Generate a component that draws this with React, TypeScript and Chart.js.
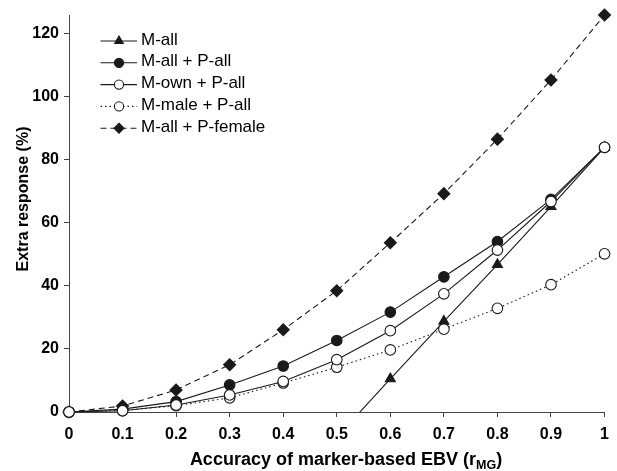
import React, { useEffect, useRef } from 'react';
import { Chart, registerables } from 'chart.js';

Chart.register(...registerables);

const FONT = '"Liberation Sans", Arial, Helvetica, sans-serif';

// ---- data ----
const xValues = [0, 0.1, 0.2, 0.3, 0.4, 0.5, 0.6, 0.7, 0.8, 0.9, 1];
const xTickLabels = ['0', '0.1', '0.2', '0.3', '0.4', '0.5', '0.6', '0.7', '0.8', '0.9', '1'];
const yTicks = [0, 20, 40, 60, 80, 100, 120];
const yMax = 126;

const seriesNames = ['M-all', 'M-all + P-all', 'M-own + P-all', 'M-male + P-all', 'M-all + P-female'];
const mAll = [null, null, null, null, null, -8, 10.5, 28.8, 46.8, 65.2, 84];
const mAllPAll = [0, 0.9, 3.3, 8.6, 14.6, 22.7, 31.7, 42.9, 54.1, 67.5, 84];
const mOwnPAll = [0, 0.4, 2.2, 5.4, 9.7, 16.6, 25.8, 37.5, 51.4, 66.8, 84];
const mMalePAll = [0, 0.5, 2.0, 4.5, 9.2, 14.2, 19.7, 26.3, 32.9, 40.4, 50.2];
const mAllPFemale = [0, 1.9, 7.0, 15.0, 26.1, 38.5, 53.7, 69.3, 86.6, 105.4, 126];

const xTitle = 'Accuracy of marker-based EBV (r';
const xTitleSub = 'MG';
const xTitleEnd = ')';
const yTitle = 'Extra response (%)';

const INK = '#1a1a1a';

type Style = {
  marker: 'triangle' | 'circle' | 'rectRot';
  filled: boolean;
  dash: number[];
  radius: number;
  order: number;
};

const styles: Style[] = [
  { marker: 'triangle', filled: true, dash: [], radius: 5.8, order: 3 },
  { marker: 'circle', filled: true, dash: [], radius: 5.3, order: 2 },
  { marker: 'circle', filled: false, dash: [], radius: 5.3, order: 0 },
  { marker: 'circle', filled: false, dash: [1.5, 3], radius: 5.3, order: 1 },
  { marker: 'rectRot', filled: true, dash: [6, 4], radius: 6, order: 4 },
];

const seriesValues = [mAll, mAllPAll, mOwnPAll, mMalePAll, mAllPFemale];

function toPoints(vals: (number | null)[]) {
  return xValues
    .map((x, i) => ({ x, y: vals[i] }))
    .filter((p) => p.y !== null) as { x: number; y: number }[];
}

function drawMarker(ctx: CanvasRenderingContext2D, st: Style, x: number, y: number, r: number) {
  ctx.save();
  ctx.setLineDash([]);
  ctx.lineWidth = 1.1;
  ctx.strokeStyle = INK;
  ctx.fillStyle = st.filled ? INK : '#ffffff';
  ctx.beginPath();
  if (st.marker === 'circle') {
    ctx.arc(x, y, r, 0, Math.PI * 2);
  } else if (st.marker === 'triangle') {
    ctx.moveTo(x, y - r);
    ctx.lineTo(x - 0.866 * r, y + 0.5 * r);
    ctx.lineTo(x + 0.866 * r, y + 0.5 * r);
    ctx.closePath();
  } else {
    ctx.moveTo(x, y - r);
    ctx.lineTo(x + r, y);
    ctx.lineTo(x, y + r);
    ctx.lineTo(x - r, y);
    ctx.closePath();
  }
  ctx.fill();
  ctx.stroke();
  ctx.restore();
}

const decorPlugin = {
  id: 'decor',
  afterDraw(chart: any) {
    const ctx: CanvasRenderingContext2D = chart.ctx;
    ctx.save();
    // legend
    const rowY0 = 41;
    const rowGap = 21.8;
    const lineX0 = 100.5;
    const lineX1 = 137;
    const markX = 119;
    const textX = 141;
    seriesNames.forEach((name, i) => {
      const st = styles[i];
      const y = rowY0 + i * rowGap;
      ctx.save();
      ctx.strokeStyle = INK;
      ctx.lineWidth = 1.1;
      ctx.setLineDash(st.dash);
      ctx.beginPath();
      ctx.moveTo(lineX0, y);
      ctx.lineTo(lineX1, y);
      ctx.stroke();
      ctx.restore();
      drawMarker(ctx, st, markX, y, st.marker === 'triangle' ? 5 : st.marker === 'rectRot' ? 5 : 4.6);
      ctx.fillStyle = '#000';
      ctx.font = `17px ${FONT}`;
      ctx.textAlign = 'left';
      ctx.textBaseline = 'middle';
      ctx.fillText(name, textX, y - 1);
    });

    // x title with subscript
    ctx.fillStyle = '#000';
    ctx.textBaseline = 'alphabetic';
    ctx.textAlign = 'left';
    const mainFont = `bold 18px ${FONT}`;
    const subFont = `bold 12.5px ${FONT}`;
    ctx.font = mainFont;
    const w1 = ctx.measureText(xTitle).width;
    const w3 = ctx.measureText(xTitleEnd).width;
    ctx.font = subFont;
    const w2 = ctx.measureText(xTitleSub).width;
    const total = w1 + w2 + w3;
    const cx = 346;
    let x = cx - total / 2;
    const base = 465;
    ctx.font = mainFont;
    ctx.fillText(xTitle, x, base);
    x += w1;
    ctx.font = subFont;
    ctx.fillText(xTitleSub, x, base + 4);
    x += w2;
    ctx.font = mainFont;
    ctx.fillText(xTitleEnd, x, base);

    // y title
    ctx.save();
    ctx.translate(28, 199);
    ctx.rotate(-Math.PI / 2);
    ctx.font = `bold 16px ${FONT}`;
    ctx.textAlign = 'center';
    ctx.textBaseline = 'alphabetic';
    ctx.fillText(yTitle, 0, 0);
    ctx.restore();

    ctx.restore();
  },
};

export default function App() {
  const canvasRef = useRef<HTMLCanvasElement | null>(null);

  useEffect(() => {
    if (!canvasRef.current) return;
    Chart.defaults.font.family = FONT;

    const datasets = seriesNames.map((name, i) => {
      const st = styles[i];
      return {
        label: name,
        data: toPoints(seriesValues[i]),
        borderColor: INK,
        borderWidth: 1.1,
        borderDash: st.dash,
        backgroundColor: st.filled ? INK : '#ffffff',
        pointStyle: st.marker,
        pointRadius: st.radius,
        pointBorderWidth: 1.1,
        pointBorderColor: INK,
        pointBackgroundColor: st.filled ? INK : '#ffffff',
        tension: 0,
        fill: false,
        order: st.order,
        clip: i === 0 ? { left: 10, top: 10, right: 10, bottom: 0 } : false,
      };
    });

    const chart = new Chart(canvasRef.current, {
      type: 'line',
      data: { datasets: datasets as any },
      options: {
        responsive: true,
        maintainAspectRatio: false,
        animation: false,
        layout: { padding: { top: 15, right: 7, left: 0, bottom: 0 } },
        plugins: {
          legend: { display: false },
          tooltip: { enabled: false },
          title: { display: false },
        },
        scales: {
          x: {
            type: 'linear',
            min: 0,
            max: 1,
            afterBuildTicks: (scale: any) => {
              scale.ticks = xValues.map((v) => ({ value: v }));
            },
            afterFit: (scale: any) => {
              scale.height = 59;
            },
            ticks: {
              autoSkip: false,
              maxRotation: 0,
              padding: 8,
              color: '#000',
              font: { size: 16, weight: 'bold', family: FONT },
              callback: (v: any) => {
                const idx = xValues.findIndex((x) => Math.abs(x - Number(v)) < 1e-6);
                return idx >= 0 ? xTickLabels[idx] : '';
              },
            },
            grid: {
              drawOnChartArea: false,
              drawTicks: true,
              tickLength: 5,
              color: '#444',
            },
            border: { display: true, color: '#444', width: 1 },
          },
          y: {
            type: 'linear',
            min: 0,
            max: yMax,
            afterBuildTicks: (scale: any) => {
              scale.ticks = yTicks.map((v) => ({ value: v }));
            },
            afterFit: (scale: any) => {
              scale.width = 69;
            },
            ticks: {
              autoSkip: false,
              padding: 5,
              color: '#000',
              font: { size: 16, weight: 'bold', family: FONT },
              callback: (v: any) => String(v),
            },
            grid: {
              drawOnChartArea: false,
              drawTicks: true,
              tickLength: 5,
              color: '#444',
            },
            border: { display: true, color: '#444', width: 1 },
          },
        },
      },
      plugins: [decorPlugin],
    });

    return () => {
      chart.destroy();
    };
  }, []);

  return (
    <div style={{ position: 'absolute', left: 0, top: 0, width: 617, height: 471, background: '#fff' }}>
      <canvas ref={canvasRef} />
    </div>
  );
}
